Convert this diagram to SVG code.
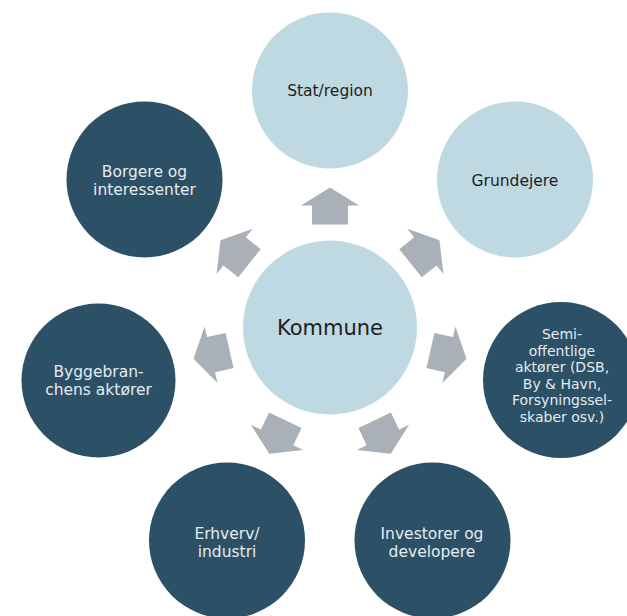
<svg xmlns="http://www.w3.org/2000/svg" width="627" height="616" viewBox="0 0 627 616">
<style>
.light{fill:#BFD9E2}
.dark{fill:#2C5066}
.arrow{fill:#A9B0B7}
text{font-family:"DejaVu Sans","Liberation Sans",sans-serif;font-size:15.5px;text-anchor:middle}
.tl{fill:#1E1E1E}
.td{fill:#E6ECEF}
.sm{font-size:14px}
</style>
<defs>
<polygon id="arr" points="-18,-103 -18,-122 -29,-122 0,-140 29,-122 18,-122 18,-103"/>
</defs>
<rect width="627" height="616" fill="#FFFFFF"/>
<g id="connectors" class="arrow">
<use href="#arr" transform="translate(330,327.5) rotate(0)"/>
<use href="#arr" transform="translate(330,327.5) rotate(51.43)"/>
<use href="#arr" transform="translate(330,327.5) rotate(102.86)"/>
<use href="#arr" transform="translate(330,327.5) rotate(154.29)"/>
<use href="#arr" transform="translate(330,327.5) rotate(205.71)"/>
<use href="#arr" transform="translate(330,327.5) rotate(257.14)"/>
<use href="#arr" transform="translate(330,327.5) rotate(308.57)"/>
</g>
<g id="kommune">
<circle class="light" cx="330" cy="327.5" r="87"/>
<text class="tl" x="330" y="335" style="font-size:21px">Kommune</text>
</g>
<g id="stat">
<circle class="light" cx="330" cy="90.5" r="78"/>
<text class="tl" x="330" y="96">Stat/region</text>
</g>
<g id="grundejere">
<circle class="light" cx="515" cy="179.5" r="78"/>
<text class="tl" x="515" y="186">Grundejere</text>
</g>
<g id="semi">
<circle class="dark" cx="561" cy="380" r="78"/>
<text class="td sm" x="562" y="339">Semi-</text>
<text class="td sm" x="562" y="355.5">offentlige</text>
<text class="td sm" x="562" y="372">aktører (DSB,</text>
<text class="td sm" x="562" y="388.5">By &amp; Havn,</text>
<text class="td sm" x="562" y="405">Forsyningssel-</text>
<text class="td sm" x="562" y="421.5">skaber osv.)</text>
</g>
<g id="investorer">
<circle class="dark" cx="432.5" cy="540.5" r="78"/>
<text class="td" x="432" y="539">Investorer og</text>
<text class="td" x="432" y="557">developere</text>
</g>
<g id="erhverv">
<circle class="dark" cx="227" cy="540.5" r="78"/>
<text class="td" x="227" y="539">Erhverv/</text>
<text class="td" x="227" y="557">industri</text>
</g>
<g id="byggebranchen">
<circle class="dark" cx="98.5" cy="380.5" r="77"/>
<text class="td" x="98.5" y="377">Byggebran-</text>
<text class="td" x="98.5" y="395">chens aktører</text>
</g>
<g id="borgere">
<circle class="dark" cx="144.5" cy="179.5" r="78"/>
<text class="td" x="144.5" y="176.5">Borgere og</text>
<text class="td" x="144.5" y="194.5">interessenter</text>
</g>
</svg>
